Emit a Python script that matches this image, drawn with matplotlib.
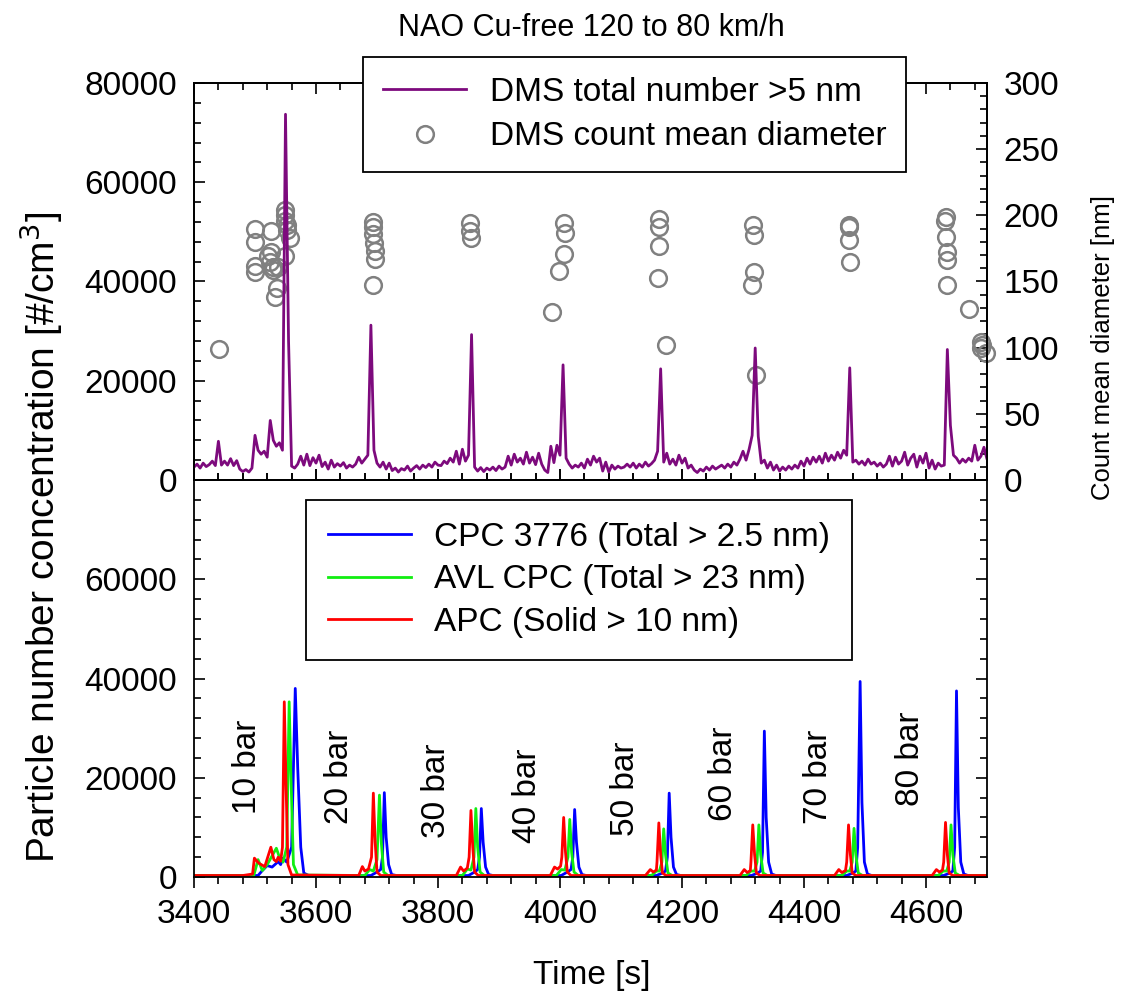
import matplotlib
matplotlib.use("Agg")
import matplotlib.pyplot as plt
from matplotlib.lines import Line2D
from matplotlib.ticker import MultipleLocator
import numpy as np

plt.rcParams['font.family'] = ['Liberation Sans', 'DejaVu Sans']

# DMS total number >5 nm, values in 1000 #/cm3, one value every 5 s from 3400 s
dms_total = [
    2.6, 3.2, 2.4, 3.4, 2.7, 3.1, 3.8, 2.9, 7.8, 3.0,
    3.8, 3.0, 4.3, 2.9, 3.9, 2.2, 1.7, 2.1, 1.6, 2.4,
    9.0, 6.0, 5.2, 5.8, 4.6, 12.0, 8.0, 6.8, 7.5, 6.0,
    73.7, 28.0, 2.8, 2.4, 3.2, 4.8, 3.0, 5.2, 2.9, 4.5,
    3.4, 5.0, 2.7, 3.6, 2.2, 4.0, 2.6, 3.3, 2.8, 3.5,
    2.4, 3.0, 2.6, 3.2, 4.6, 3.4, 4.2, 5.0, 31.2, 6.0,
    3.4, 2.6, 3.6, 2.2, 3.4, 1.9, 2.4, 1.6, 2.3, 2.0,
    2.8, 1.8, 2.4, 2.9, 2.2, 3.0, 2.5, 3.2, 2.6, 3.6, 3.0,
    2.9, 3.8, 3.3, 4.4, 3.6, 5.8, 3.2, 6.2, 3.8, 5.0,
    29.3, 2.6, 1.8, 2.5, 1.7, 2.4, 2.0, 2.6, 1.9, 2.8,
    2.2, 2.6, 4.8, 3.0, 5.2, 3.6, 4.4, 3.2, 5.6, 3.4,
    4.6, 3.1, 5.4, 3.2, 2.0, 1.5, 6.8, 3.5, 7.0, 5.0,
    23.2, 4.4, 3.2, 2.4, 3.0, 2.6, 3.4, 2.4, 4.2, 3.0,
    4.8, 3.6, 4.4, 1.8, 3.6, 1.6, 3.0, 2.2, 2.8, 2.4, 2.6,
    3.2, 2.6, 3.4, 2.4, 3.2, 2.6, 3.6, 2.8, 3.3, 4.0,
    5.8, 22.4, 3.6, 5.4, 3.2, 4.2, 3.0, 5.0, 3.4, 4.4,
    2.4, 3.0, 2.0, 1.5, 2.2, 1.8, 2.6, 2.0, 2.8, 2.2,
    2.6, 3.0, 2.4, 3.2, 2.6, 3.6, 3.0, 4.2, 5.8, 4.0,
    6.2, 9.0, 26.6, 8.8, 3.4, 4.0, 2.4, 3.6, 2.0, 3.0,
    1.8, 2.6, 2.0, 2.8, 2.2, 3.0, 2.4, 3.8, 2.8, 4.4,
    3.2, 4.6, 3.6, 4.8, 3.4, 5.4, 3.8, 5.0, 4.0, 5.6,
    4.4, 6.0, 5.0, 22.6, 3.6, 4.0, 3.2, 3.8, 3.0, 4.2,
    3.2, 3.6, 2.8, 3.4, 2.6, 3.2, 4.8, 2.8, 4.6, 3.2, 3.8,
    5.6, 3.0, 4.4, 5.2, 2.6, 4.8, 3.4, 5.4, 2.4, 4.0,
    2.2, 3.4, 2.8, 3.0, 26.3, 11.0, 5.0, 4.4, 3.4, 4.2,
    3.6, 4.4, 3.8, 7.0, 4.0, 4.8, 6.6, 4.2, 6.0,
]
dms_time = 3400 + 5 * np.arange(len(dms_total))

# DMS count mean diameter [nm]
cmd_time = [3441, 3500, 3500, 3500, 3500, 3527, 3527, 3522, 3525, 3530, 3530,
            3538, 3536, 3533, 3549, 3549, 3549, 3552, 3552, 3557, 3549,
            3694, 3694, 3694, 3695, 3696, 3697, 3693,
            3853, 3853, 3854,
            4006, 4009, 4006, 3999, 3987,
            4162, 4162, 4162, 4160, 4174,
            4317, 4318, 4318, 4315, 4322,
            4474, 4474, 4473, 4475,
            4632, 4631, 4633, 4635, 4635, 4635,
            4671, 4690, 4690, 4691, 4698]
cmd_diam = [99, 190, 180, 162, 157, 188, 172, 169, 165, 161, 159,
            161, 145, 138, 204, 200, 196, 193, 189, 183, 169,
            195, 191, 186, 179, 173, 167, 147,
            194, 188, 183,
            194, 187, 171, 158, 127,
            197, 191, 177, 153, 102,
            193, 185, 157, 147, 79,
            193, 191, 181, 165,
            199, 196, 184, 172, 166, 147,
            129, 104, 100, 102, 96]

# bottom panel, values in 1000 #/cm3
cpc_time = [3400, 3505, 3512, 3520, 3528, 3538, 3542, 3546, 3552, 3560, 3566, 3570, 3575, 3580, 3588,
            3690, 3700, 3706, 3709, 3712, 3715, 3719, 3724, 3732,
            3850, 3860, 3865, 3868, 3871, 3874, 3878, 3883, 3890,
            4002, 4012, 4018, 4021, 4024, 4027, 4031, 4036, 4043,
            4158, 4168, 4173, 4176, 4179, 4182, 4186, 4191, 4198,
            4314, 4324, 4329, 4332, 4335, 4338, 4342, 4347, 4354,
            4470, 4480, 4485, 4488, 4492, 4495, 4499, 4504, 4511,
            4629, 4639, 4644, 4647, 4650, 4653, 4657, 4662, 4669, 4700]
cpc_total = [0.3, 0.3, 1.3, 2.3, 2.0, 3.1, 2.5, 3.8, 3.0, 6.0, 38.0, 22.0, 6.0, 0.8, 0.3,
             0.3, 1.0, 1.5, 4.0, 17.0, 8.0, 2.5, 0.5, 0.3,
             0.3, 1.0, 1.5, 4.0, 13.8, 7.0, 2.0, 0.5, 0.3,
             0.3, 1.0, 1.5, 4.0, 13.6, 7.0, 2.0, 0.5, 0.3,
             0.3, 0.8, 1.2, 4.0, 16.9, 8.0, 2.0, 0.5, 0.3,
             0.3, 0.8, 1.2, 5.0, 29.4, 12.0, 3.0, 0.6, 0.3,
             0.3, 0.8, 1.2, 6.0, 39.4, 15.0, 3.0, 0.6, 0.3,
             0.3, 0.8, 1.2, 6.0, 37.5, 14.0, 3.0, 0.6, 0.3, 0.3]

avl_time = [3400, 3498, 3505, 3512, 3520, 3535, 3540, 3546, 3552, 3556, 3559, 3563, 3570,
            3680, 3688, 3694, 3700, 3704, 3707, 3711, 3718,
            3840, 3848, 3854, 3859, 3862, 3865, 3869, 3876,
            3994, 4002, 4008, 4013, 4016, 4019, 4023, 4030,
            4150, 4158, 4163, 4167, 4170, 4173, 4177, 4184,
            4305, 4313, 4319, 4323, 4326, 4329, 4333, 4340,
            4462, 4470, 4475, 4479, 4482, 4485, 4489, 4496,
            4620, 4628, 4634, 4638, 4641, 4644, 4648, 4655, 4700]
avl_total = [0.3, 0.3, 3.5, 1.3, 2.5, 5.8, 4.0, 3.0, 6.0, 35.3, 20.0, 2.5, 0.4,
             0.3, 1.5, 1.2, 3.5, 16.5, 7.0, 1.0, 0.3,
             0.3, 1.6, 1.4, 4.0, 13.8, 6.0, 1.0, 0.3,
             0.3, 1.5, 1.4, 4.0, 11.6, 5.0, 1.0, 0.3,
             0.3, 1.2, 1.2, 3.0, 9.7, 4.5, 0.8, 0.3,
             0.3, 1.2, 1.2, 3.0, 10.5, 4.5, 0.8, 0.3,
             0.3, 1.2, 1.2, 3.0, 9.8, 4.5, 0.8, 0.3,
             0.3, 1.2, 1.2, 3.0, 10.5, 4.5, 0.8, 0.3, 0.3]

apc_time = [3400, 3480, 3496, 3499, 3506, 3516, 3526, 3531, 3535, 3538, 3542, 3545, 3548, 3551, 3554, 3560,
            3670, 3676, 3680, 3686, 3691, 3694, 3697, 3700, 3706,
            3830, 3837, 3842, 3848, 3851, 3854, 3857, 3860, 3866,
            3984, 3991, 3996, 4001, 4003, 4006, 4009, 4012, 4018,
            4140, 4148, 4153, 4158, 4159, 4162, 4165, 4168, 4174,
            4295, 4302, 4307, 4312, 4313, 4316, 4319, 4322, 4328,
            4450, 4457, 4462, 4468, 4470, 4473, 4476, 4479, 4485,
            4610, 4617, 4622, 4627, 4629, 4632, 4635, 4638, 4644, 4700]
apc_solid = [0.3, 0.3, 0.6, 3.8, 2.8, 2.1, 6.0, 3.5, 3.1, 4.0, 3.2, 6.0, 35.3, 18.0, 2.5, 0.4,
             0.3, 2.1, 1.2, 1.6, 4.0, 16.9, 7.0, 1.0, 0.3,
             0.3, 2.0, 1.2, 1.8, 4.0, 13.4, 6.0, 1.0, 0.3,
             0.3, 2.0, 1.6, 2.2, 4.0, 12.0, 5.0, 1.0, 0.3,
             0.3, 1.5, 1.0, 1.4, 3.0, 10.9, 4.5, 0.8, 0.3,
             0.3, 1.5, 0.9, 1.3, 3.0, 10.5, 4.5, 0.8, 0.3,
             0.3, 1.5, 0.9, 1.3, 3.0, 10.5, 4.5, 0.8, 0.3,
             0.3, 1.5, 1.0, 1.4, 3.0, 11.0, 4.5, 0.8, 0.3, 0.3]

bar_labels = ["10 bar", "20 bar", "30 bar", "40 bar", "50 bar", "60 bar", "70 bar", "80 bar"]
bar_x = [3487, 3638, 3797, 3947, 4107, 4268, 4424, 4575]
bar_y = [22200, 20200, 17300, 16300, 17700, 20800, 20200, 23800]

FS = 24

fig = plt.figure(figsize=(11.22, 9.97), dpi=100)
ax_top = fig.add_axes([0.17291, 0.51856, 0.70677, 0.39819])
ax_bot = fig.add_axes([0.17291, 0.12036, 0.70677, 0.39819], sharex=ax_top)
ax_d = ax_top.twinx()

# circles under the purple line
ax_d.set_zorder(1)
ax_top.set_zorder(2)
ax_top.patch.set_visible(False)

ax_top.plot(dms_time, np.array(dms_total) * 1000, color='#7d0a7d', lw=2.0)
ax_d.plot(cmd_time, cmd_diam, 'o', ms=12, mfc='none', mec='#808080', mew=1.8, clip_on=False)

ax_bot.plot(cpc_time, np.array(cpc_total) * 1000, color='#0000ff', lw=2.0)
ax_bot.plot(avl_time, np.array(avl_total) * 1000, color='#11ee11', lw=2.0)
ax_bot.plot(apc_time, np.array(apc_solid) * 1000, color='#ff0000', lw=2.0)

for lab, x, y in zip(bar_labels, bar_x, bar_y):
    ax_bot.text(x, y, lab, rotation=90, ha='center', va='center', fontsize=FS)

ax_top.set_xlim(3400, 4700)
ax_top.set_ylim(0, 80000)
ax_bot.set_ylim(0, 80000)
ax_d.set_ylim(0, 300)

ax_top.set_yticks([0, 20000, 40000, 60000, 80000])
ax_bot.set_yticks([0, 20000, 40000, 60000, 80000])
ax_bot.set_yticklabels(['0', '20000', '40000', '60000', ''])
ax_bot.set_xticks([3400, 3600, 3800, 4000, 4200, 4400, 4600])
ax_d.set_yticks([0, 50, 100, 150, 200, 250, 300])
for a in (ax_top, ax_bot):
    a.yaxis.set_minor_locator(MultipleLocator(4000))
    a.xaxis.set_minor_locator(MultipleLocator(40))
ax_d.yaxis.set_minor_locator(MultipleLocator(10))

ax_top.tick_params(which='both', direction='in', top=True, bottom=True, right=False,
                   labelbottom=False, labelsize=FS, pad=12)
ax_bot.tick_params(which='both', direction='in', top=True, right=True, labelsize=FS, pad=12)
ax_bot.tick_params(axis='x', which='both', direction='out', pad=8)
ax_d.tick_params(which='both', direction='in', labelsize=FS, pad=12)
for a in (ax_top, ax_bot, ax_d):
    a.tick_params(which='major', length=8, width=1.2)
    a.tick_params(which='minor', length=5, width=1.2)
    for s in a.spines.values():
        s.set_linewidth(1.3)

handles_top = [Line2D([], [], color='#7d0a7d', lw=2.0),
               Line2D([], [], ls='none', marker='o', ms=12, mfc='none', mec='#808080', mew=1.8)]
leg1 = ax_top.legend(handles_top, ['DMS total number >5 nm', 'DMS count mean diameter'],
                     loc='upper left', bbox_to_anchor=(0.3235, 0.9428), bbox_transform=fig.transFigure,
                     fontsize=FS, frameon=True, fancybox=False, edgecolor='black', framealpha=1,
                     handlelength=2.5, handletextpad=0.7, borderpad=0.6, labelspacing=0.4,
                     borderaxespad=0)
leg1.get_frame().set_linewidth(1.3)

leg2 = ax_bot.legend(['CPC 3776 (Total > 2.5 nm)', 'AVL CPC (Total > 23 nm)', 'APC (Solid > 10 nm)'],
                     loc='upper left', bbox_to_anchor=(0.2727, 0.4985), bbox_transform=fig.transFigure,
                     fontsize=FS, frameon=True, fancybox=False, edgecolor='black', framealpha=1,
                     handlelength=2.5, handletextpad=0.7, borderpad=0.65, labelspacing=0.35,
                     borderaxespad=0)
leg2.get_frame().set_linewidth(1.3)

fig.text(0.527, 1 - 28 / 997, 'NAO Cu-free 120 to 80 km/h', ha='center', va='center', fontsize=22)
fig.text(0.527, 1 - 975 / 997, 'Time [s]', ha='center', va='center', fontsize=FS)
fig.text(41 / 1122, 1 - 537 / 997, 'Particle number concentration [#/cm$^3$]', rotation=90,
         ha='center', va='center', fontsize=28)
fig.text(1103 / 1122, 1 - 347 / 997, 'Count mean diameter [nm]', rotation=90,
         ha='center', va='center', fontsize=18.5)

fig.savefig('out.png', dpi=100)
